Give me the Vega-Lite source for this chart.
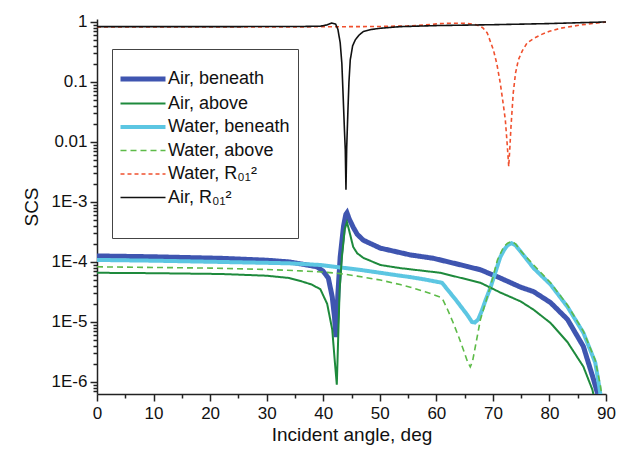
{
  "$schema": "https://vega.github.io/schema/vega-lite/v6.json",
  "width": 509,
  "height": 375,
  "autosize": {"type": "none"},
  "padding": {"left": 97, "top": 19, "right": 14, "bottom": 56},
  "config": {
    "font": "Liberation Sans",
    "view": {"stroke": null},
    "axis": {
      "grid": false,
      "labelFontSize": 17,
      "titleFontSize": 19,
      "titleFontWeight": "normal",
      "labelColor": "#111",
      "titleColor": "#111",
      "domainColor": "#222",
      "tickColor": "#222",
      "domainWidth": 1.5,
      "tickWidth": 1.5,
      "labelOverlap": false
    }
  },
  "data": {
    "values": [
      {"s": "Air, beneath", "x": 0, "y": 1.26e-4},
      {"s": "Air, beneath", "x": 10, "y": 1.22e-4},
      {"s": "Air, beneath", "x": 22, "y": 1.15e-4},
      {"s": "Air, beneath", "x": 30, "y": 1.07e-4},
      {"s": "Air, beneath", "x": 34, "y": 1.0e-4},
      {"s": "Air, beneath", "x": 36, "y": 9.3e-5},
      {"s": "Air, beneath", "x": 38.9, "y": 8.3e-5},
      {"s": "Air, beneath", "x": 40.0, "y": 7.0e-5},
      {"s": "Air, beneath", "x": 40.9, "y": 5.4e-5},
      {"s": "Air, beneath", "x": 41.6, "y": 2.6e-5},
      {"s": "Air, beneath", "x": 42.0, "y": 1.2e-5},
      {"s": "Air, beneath", "x": 42.25, "y": 5.6e-6},
      {"s": "Air, beneath", "x": 42.6, "y": 3.0e-5},
      {"s": "Air, beneath", "x": 43.0, "y": 1.22e-4},
      {"s": "Air, beneath", "x": 43.6, "y": 4.0e-4},
      {"s": "Air, beneath", "x": 44.0, "y": 6.2e-4},
      {"s": "Air, beneath", "x": 44.2, "y": 6.6e-4},
      {"s": "Air, beneath", "x": 44.6, "y": 5.2e-4},
      {"s": "Air, beneath", "x": 45.3, "y": 3.8e-4},
      {"s": "Air, beneath", "x": 46.0, "y": 2.9e-4},
      {"s": "Air, beneath", "x": 47.1, "y": 2.3e-4},
      {"s": "Air, beneath", "x": 50.1, "y": 1.7e-4},
      {"s": "Air, beneath", "x": 55.4, "y": 1.31e-4},
      {"s": "Air, beneath", "x": 59.5, "y": 1.15e-4},
      {"s": "Air, beneath", "x": 65.5, "y": 8.4e-5},
      {"s": "Air, beneath", "x": 67.8, "y": 7.4e-5},
      {"s": "Air, beneath", "x": 71.3, "y": 5.4e-5},
      {"s": "Air, beneath", "x": 74.9, "y": 3.8e-5},
      {"s": "Air, beneath", "x": 77.2, "y": 3.2e-5},
      {"s": "Air, beneath", "x": 80.2, "y": 2.1e-5},
      {"s": "Air, beneath", "x": 83.2, "y": 1.1e-5},
      {"s": "Air, beneath", "x": 86.0, "y": 3.9e-6},
      {"s": "Air, beneath", "x": 87.8, "y": 1.1e-6},
      {"s": "Air, beneath", "x": 88.5, "y": 6.5e-7},
      {"s": "Air, beneath", "x": 89.0, "y": 3e-7},

      {"s": "Water, beneath", "x": 0, "y": 1.08e-4},
      {"s": "Water, beneath", "x": 10, "y": 1.05e-4},
      {"s": "Water, beneath", "x": 22, "y": 1.0e-4},
      {"s": "Water, beneath", "x": 34, "y": 9.5e-5},
      {"s": "Water, beneath", "x": 39.5, "y": 8.9e-5},
      {"s": "Water, beneath", "x": 43.0, "y": 8.1e-5},
      {"s": "Water, beneath", "x": 46.0, "y": 7.5e-5},
      {"s": "Water, beneath", "x": 50.1, "y": 6.6e-5},
      {"s": "Water, beneath", "x": 53.6, "y": 5.9e-5},
      {"s": "Water, beneath", "x": 55.4, "y": 5.6e-5},
      {"s": "Water, beneath", "x": 58.0, "y": 5.1e-5},
      {"s": "Water, beneath", "x": 61.0, "y": 4.5e-5},
      {"s": "Water, beneath", "x": 63.5, "y": 2.3e-5},
      {"s": "Water, beneath", "x": 65.5, "y": 1.3e-5},
      {"s": "Water, beneath", "x": 66.3, "y": 1.0e-5},
      {"s": "Water, beneath", "x": 66.8, "y": 9.8e-6},
      {"s": "Water, beneath", "x": 67.4, "y": 1.1e-5},
      {"s": "Water, beneath", "x": 68.0, "y": 1.5e-5},
      {"s": "Water, beneath", "x": 68.7, "y": 2.3e-5},
      {"s": "Water, beneath", "x": 69.6, "y": 3.8e-5},
      {"s": "Water, beneath", "x": 70.5, "y": 7.0e-5},
      {"s": "Water, beneath", "x": 71.3, "y": 1.2e-4},
      {"s": "Water, beneath", "x": 72.0, "y": 1.6e-4},
      {"s": "Water, beneath", "x": 72.6, "y": 1.9e-4},
      {"s": "Water, beneath", "x": 73.3, "y": 2.05e-4},
      {"s": "Water, beneath", "x": 74.0, "y": 1.9e-4},
      {"s": "Water, beneath", "x": 75.0, "y": 1.45e-4},
      {"s": "Water, beneath", "x": 77.2, "y": 7.9e-5},
      {"s": "Water, beneath", "x": 80.2, "y": 4.2e-5},
      {"s": "Water, beneath", "x": 83.2, "y": 1.78e-5},
      {"s": "Water, beneath", "x": 86.0, "y": 6.6e-6},
      {"s": "Water, beneath", "x": 88.1, "y": 2.1e-6},
      {"s": "Water, beneath", "x": 88.9, "y": 7.4e-7},
      {"s": "Water, beneath", "x": 89.3, "y": 4e-7},

      {"s": "Air, above", "x": 0, "y": 6.6e-5},
      {"s": "Air, above", "x": 10, "y": 6.5e-5},
      {"s": "Air, above", "x": 22, "y": 6.3e-5},
      {"s": "Air, above", "x": 30, "y": 5.9e-5},
      {"s": "Air, above", "x": 34, "y": 5.4e-5},
      {"s": "Air, above", "x": 36, "y": 4.8e-5},
      {"s": "Air, above", "x": 38, "y": 4.2e-5},
      {"s": "Air, above", "x": 39.5, "y": 3.5e-5},
      {"s": "Air, above", "x": 40.7, "y": 2.0e-5},
      {"s": "Air, above", "x": 41.6, "y": 7.4e-6},
      {"s": "Air, above", "x": 42.0, "y": 2.5e-6},
      {"s": "Air, above", "x": 42.4, "y": 9.0e-7},
      {"s": "Air, above", "x": 42.7, "y": 8e-6},
      {"s": "Air, above", "x": 42.9, "y": 3.4e-5},
      {"s": "Air, above", "x": 43.3, "y": 1.2e-4},
      {"s": "Air, above", "x": 43.8, "y": 3.5e-4},
      {"s": "Air, above", "x": 44.2, "y": 4.6e-4},
      {"s": "Air, above", "x": 44.6, "y": 3.3e-4},
      {"s": "Air, above", "x": 45.3, "y": 1.78e-4},
      {"s": "Air, above", "x": 46.0, "y": 1.4e-4},
      {"s": "Air, above", "x": 47.1, "y": 1.17e-4},
      {"s": "Air, above", "x": 50.1, "y": 8.9e-5},
      {"s": "Air, above", "x": 53.6, "y": 7.9e-5},
      {"s": "Air, above", "x": 60.7, "y": 6.6e-5},
      {"s": "Air, above", "x": 67.8, "y": 4.5e-5},
      {"s": "Air, above", "x": 71.3, "y": 3.1e-5},
      {"s": "Air, above", "x": 74.9, "y": 2.2e-5},
      {"s": "Air, above", "x": 77.2, "y": 1.6e-5},
      {"s": "Air, above", "x": 80.2, "y": 9.6e-6},
      {"s": "Air, above", "x": 83.2, "y": 4.6e-6},
      {"s": "Air, above", "x": 86.0, "y": 1.8e-6},
      {"s": "Air, above", "x": 87.6, "y": 7.4e-7},
      {"s": "Air, above", "x": 88.2, "y": 4e-7},

      {"s": "Water, above", "x": 0, "y": 8.3e-5},
      {"s": "Water, above", "x": 10, "y": 8.1e-5},
      {"s": "Water, above", "x": 20, "y": 7.9e-5},
      {"s": "Water, above", "x": 30, "y": 7.5e-5},
      {"s": "Water, above", "x": 36, "y": 7.1e-5},
      {"s": "Water, above", "x": 40, "y": 6.8e-5},
      {"s": "Water, above", "x": 43, "y": 6.4e-5},
      {"s": "Water, above", "x": 46, "y": 5.8e-5},
      {"s": "Water, above", "x": 50.1, "y": 5.0e-5},
      {"s": "Water, above", "x": 53.6, "y": 4.2e-5},
      {"s": "Water, above", "x": 55.4, "y": 3.8e-5},
      {"s": "Water, above", "x": 58, "y": 3.2e-5},
      {"s": "Water, above", "x": 60.7, "y": 2.6e-5},
      {"s": "Water, above", "x": 61.2, "y": 2.3e-5},
      {"s": "Water, above", "x": 62.0, "y": 1.6e-5},
      {"s": "Water, above", "x": 63.0, "y": 9.6e-6},
      {"s": "Water, above", "x": 64.0, "y": 5.5e-6},
      {"s": "Water, above", "x": 64.8, "y": 3.4e-6},
      {"s": "Water, above", "x": 65.5, "y": 2.2e-6},
      {"s": "Water, above", "x": 66.0, "y": 1.78e-6},
      {"s": "Water, above", "x": 66.4, "y": 2.2e-6},
      {"s": "Water, above", "x": 66.9, "y": 3.9e-6},
      {"s": "Water, above", "x": 67.8, "y": 1.1e-5},
      {"s": "Water, above", "x": 69.0, "y": 2.6e-5},
      {"s": "Water, above", "x": 70.0, "y": 5.5e-5},
      {"s": "Water, above", "x": 70.8, "y": 1.08e-4},
      {"s": "Water, above", "x": 71.9, "y": 1.78e-4},
      {"s": "Water, above", "x": 72.6, "y": 2.05e-4},
      {"s": "Water, above", "x": 73.3, "y": 2.2e-4},
      {"s": "Water, above", "x": 74.0, "y": 2.0e-4},
      {"s": "Water, above", "x": 75.0, "y": 1.5e-4},
      {"s": "Water, above", "x": 77.2, "y": 8.9e-5},
      {"s": "Water, above", "x": 80.2, "y": 4.5e-5},
      {"s": "Water, above", "x": 83.2, "y": 1.9e-5},
      {"s": "Water, above", "x": 86.0, "y": 7.0e-6},
      {"s": "Water, above", "x": 88.1, "y": 2.3e-6},
      {"s": "Water, above", "x": 89.0, "y": 8.8e-7},
      {"s": "Water, above", "x": 89.5, "y": 4e-7},

      {"s": "Water, R₀₁²", "x": 0, "y": 0.825},
      {"s": "Water, R₀₁²", "x": 20, "y": 0.826},
      {"s": "Water, R₀₁²", "x": 40, "y": 0.83},
      {"s": "Water, R₀₁²", "x": 50, "y": 0.84},
      {"s": "Water, R₀₁²", "x": 55, "y": 0.86},
      {"s": "Water, R₀₁²", "x": 58, "y": 0.89},
      {"s": "Water, R₀₁²", "x": 60, "y": 0.93},
      {"s": "Water, R₀₁²", "x": 62, "y": 0.95},
      {"s": "Water, R₀₁²", "x": 65, "y": 0.95},
      {"s": "Water, R₀₁²", "x": 66.5, "y": 0.92},
      {"s": "Water, R₀₁²", "x": 67.2, "y": 0.89},
      {"s": "Water, R₀₁²", "x": 68.2, "y": 0.8},
      {"s": "Water, R₀₁²", "x": 69.0, "y": 0.656},
      {"s": "Water, R₀₁²", "x": 70.1, "y": 0.341},
      {"s": "Water, R₀₁²", "x": 70.7, "y": 0.2},
      {"s": "Water, R₀₁²", "x": 71.3, "y": 0.0962},
      {"s": "Water, R₀₁²", "x": 71.8, "y": 0.045},
      {"s": "Water, R₀₁²", "x": 72.2, "y": 0.0233},
      {"s": "Water, R₀₁²", "x": 72.5, "y": 0.01},
      {"s": "Water, R₀₁²", "x": 72.8, "y": 0.0039},
      {"s": "Water, R₀₁²", "x": 73.0, "y": 0.008},
      {"s": "Water, R₀₁²", "x": 73.2, "y": 0.018},
      {"s": "Water, R₀₁²", "x": 73.6, "y": 0.0656},
      {"s": "Water, R₀₁²", "x": 74.0, "y": 0.14},
      {"s": "Water, R₀₁²", "x": 74.5, "y": 0.233},
      {"s": "Water, R₀₁²", "x": 75.2, "y": 0.33},
      {"s": "Water, R₀₁²", "x": 76.05, "y": 0.447},
      {"s": "Water, R₀₁²", "x": 77.2, "y": 0.53},
      {"s": "Water, R₀₁²", "x": 78.4, "y": 0.607},
      {"s": "Water, R₀₁²", "x": 80, "y": 0.7},
      {"s": "Water, R₀₁²", "x": 81.95, "y": 0.785},
      {"s": "Water, R₀₁²", "x": 85.5, "y": 0.891},
      {"s": "Water, R₀₁²", "x": 89.0, "y": 0.973},
      {"s": "Water, R₀₁²", "x": 90, "y": 1.0},

      {"s": "Air, R₀₁²", "x": 0, "y": 0.835},
      {"s": "Air, R₀₁²", "x": 20, "y": 0.836},
      {"s": "Air, R₀₁²", "x": 36, "y": 0.84},
      {"s": "Air, R₀₁²", "x": 39.5, "y": 0.85},
      {"s": "Air, R₀₁²", "x": 40.6, "y": 0.89},
      {"s": "Air, R₀₁²", "x": 41.5, "y": 0.96},
      {"s": "Air, R₀₁²", "x": 42.2, "y": 0.92},
      {"s": "Air, R₀₁²", "x": 42.6, "y": 0.75},
      {"s": "Air, R₀₁²", "x": 43.0, "y": 0.45},
      {"s": "Air, R₀₁²", "x": 43.3, "y": 0.2},
      {"s": "Air, R₀₁²", "x": 43.5, "y": 0.066},
      {"s": "Air, R₀₁²", "x": 43.75, "y": 0.016},
      {"s": "Air, R₀₁²", "x": 43.9, "y": 0.0074},
      {"s": "Air, R₀₁²", "x": 44.02, "y": 0.0016},
      {"s": "Air, R₀₁²", "x": 44.15, "y": 0.008},
      {"s": "Air, R₀₁²", "x": 44.37, "y": 0.034},
      {"s": "Air, R₀₁²", "x": 44.55, "y": 0.1},
      {"s": "Air, R₀₁²", "x": 44.78, "y": 0.233},
      {"s": "Air, R₀₁²", "x": 45.2, "y": 0.4},
      {"s": "Air, R₀₁²", "x": 45.66, "y": 0.5},
      {"s": "Air, R₀₁²", "x": 46.3, "y": 0.6},
      {"s": "Air, R₀₁²", "x": 47.08, "y": 0.69},
      {"s": "Air, R₀₁²", "x": 48.5, "y": 0.75},
      {"s": "Air, R₀₁²", "x": 50.09, "y": 0.785},
      {"s": "Air, R₀₁²", "x": 53.6, "y": 0.835},
      {"s": "Air, R₀₁²", "x": 60, "y": 0.87},
      {"s": "Air, R₀₁²", "x": 70, "y": 0.9},
      {"s": "Air, R₀₁²", "x": 80, "y": 0.94},
      {"s": "Air, R₀₁²", "x": 90, "y": 1.0}
    ]
  },
  "mark": {"type": "line", "clip": true, "strokeCap": "butt"},
  "encoding": {
    "x": {
      "field": "x",
      "type": "quantitative",
      "scale": {"domain": [0, 90], "nice": false, "zero": false},
      "axis": {
        "title": "Incident angle, deg",
        "values": [0, 5, 10, 15, 20, 25, 30, 35, 40, 45, 50, 55, 60, 65, 70, 75, 80, 85, 90],
        "labelExpr": "datum.value % 10 === 0 ? datum.label : ''",
        "tickSize": {"condition": {"test": "datum.value % 10 === 0", "value": 7}, "value": 4},
        "labelPadding": 4,
        "titlePadding": 4,
        "labelFlush": false
      }
    },
    "y": {
      "field": "y",
      "type": "quantitative",
      "scale": {"type": "log", "domain": [6.3e-7, 1.12], "nice": false},
      "axis": {
        "title": "SCS",
        "titlePadding": 10,
        "labelPadding": 3,
        "values": [7e-7, 8e-7, 9e-7, 1e-6, 2e-6, 3e-6, 4e-6, 5e-6, 6e-6, 7e-6, 8e-6, 9e-6, 1e-5, 2e-5, 3e-5, 4e-5, 5e-5, 6e-5, 7e-5, 8e-5, 9e-5, 1e-4, 2e-4, 3e-4, 4e-4, 5e-4, 6e-4, 7e-4, 8e-4, 9e-4, 1e-3, 0.002, 0.003, 0.004, 0.005, 0.006, 0.007, 0.008, 0.009, 0.01, 0.02, 0.03, 0.04, 0.05, 0.06, 0.07, 0.08, 0.09, 0.1, 0.2, 0.3, 0.4, 0.5, 0.6, 0.7, 0.8, 0.9, 1],
        "labelExpr": "abs(log(datum.value)/LN10 - round(log(datum.value)/LN10)) > 0.001 ? '' : (datum.value >= 0.01 ? toString(datum.value) : '1E' + round(log(datum.value)/LN10))",
        "tickSize": {"condition": {"test": "abs(log(datum.value)/LN10 - round(log(datum.value)/LN10)) < 0.001", "value": 7}, "value": 4},
        "labelFlush": false
      }
    },
    "color": {
      "field": "s",
      "type": "nominal",
      "scale": {
        "domain": ["Air, beneath", "Air, above", "Water, beneath", "Water, above", "Water, R₀₁²", "Air, R₀₁²", " "],
        "range": ["#3F55B0", "#1E8A3C", "#5CC6E2", "#5DBB48", "#F0502E", "#111111", "rgba(0,0,0,0)"]
      },
      "legend": {
        "orient": "none",
        "legendX": 15,
        "legendY": 30,
        "title": " ",
        "titleFontSize": 10,
        "titlePadding": 3,
        "padding": 8,
        "strokeColor": "#444",
        "fillColor": "white",
        "symbolType": "stroke",
        "symbolSize": 2025,
        "symbolOffset": 14,
        "labelFontSize": 18,
        "labelColor": "#111",
        "labelOffset": 16,
        "rowPadding": 5.5,
        "labelLimit": 300,
        "encode": {
          "symbols": {
            "update": {
              "strokeWidth": {"signal": "datum.value === 'Air, beneath' ? 5 : datum.value === 'Water, beneath' ? 4 : datum.value === 'Air, above' ? 2 : 1.6"}
            }
          }
        }
      }
    },
    "strokeDash": {
      "field": "s",
      "type": "nominal",
      "scale": {
        "domain": ["Air, beneath", "Air, above", "Water, beneath", "Water, above", "Water, R₀₁²", "Air, R₀₁²", " "],
        "range": [[1, 0], [1, 0], [1, 0], [6, 4], [4, 3], [1, 0], [1, 0]]
      }
    },
    "strokeWidth": {
      "condition": [
        {"test": "datum.s === 'Air, beneath'", "value": 5},
        {"test": "datum.s === 'Water, beneath'", "value": 4},
        {"test": "datum.s === 'Air, above'", "value": 2}
      ],
      "value": 1.6
    }
  }
}
